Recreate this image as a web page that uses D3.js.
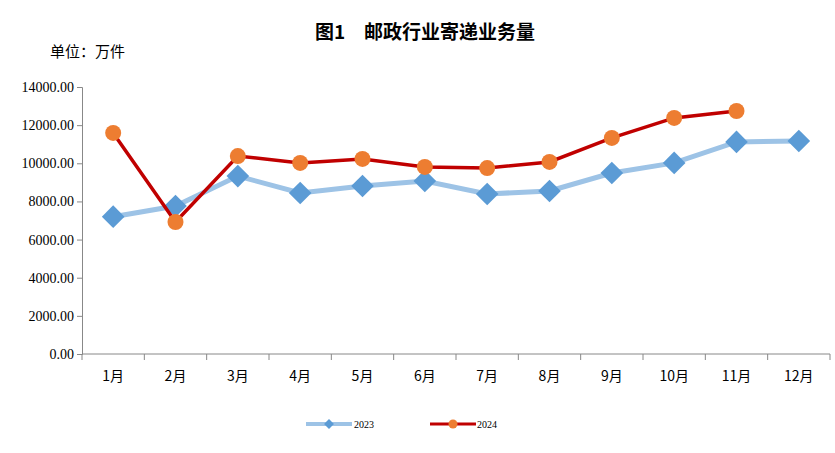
<!DOCTYPE html>
<html><head><meta charset="utf-8">
<script src="https://cdn.jsdelivr.net/npm/d3@7"></script>
<style>body{margin:0;background:#fff}</style>
</head><body><div id="chart"></div>
<script>
const months = ['1月','2月','3月','4月','5月','6月','7月','8月','9月','10月','11月','12月'];
const values2023 = [7200, 7760, 9330, 8440, 8810, 9070, 8390, 8550, 9490, 10020, 11120, 11170];
const values2024 = [11590, 6920, 10380, 10020, 10230, 9810, 9750, 10070, 11330, 12380, 12740];
const yTicks = [0, 2000, 4000, 6000, 8000, 10000, 12000, 14000];

(function() {
  const width = 835, height = 453,
        left = 82, right = 830, top = 87, bottom = 354;

  const svg = d3.select('#chart').append('svg')
    .attr('width', width).attr('height', height);

  const x = d3.scaleBand().domain(months).range([left, right]);
  const y = d3.scaleLinear().domain([0, 14000]).range([bottom, top]);
  const cx = m => x(m) + x.bandwidth() / 2;
  const numFont = '"Liberation Serif", serif';
  const cjk = '"Noto Sans CJK SC", sans-serif';

  svg.append('text').attr('x', 425).attr('y', 39).attr('text-anchor', 'middle')
    .style('font-family', cjk).style('font-size', '19px').style('font-weight', 'bold')
    .text('图1　邮政行业寄递业务量');
  svg.append('text').attr('x', 50).attr('y', 57)
    .style('font-family', cjk).style('font-size', '15px').text('单位：万件');

  // y axis
  const ya = svg.append('g').attr('transform', `translate(${left},0)`)
    .call(d3.axisLeft(y).tickValues(yTicks).tickSize(5).tickFormat(d => d.toFixed(2)));
  ya.selectAll('path,line').attr('stroke', '#888');
  ya.selectAll('text').style('font-family', numFont).style('font-size', '14px').attr('fill', '#000');

  // x axis
  const xa = svg.append('g').attr('transform', `translate(0,${bottom})`);
  xa.append('line').attr('x1', left).attr('x2', right).attr('stroke', '#888');
  xa.selectAll('.tk').data(months.concat(['end'])).enter().append('line')
    .attr('x1', (d, i) => left + i * x.bandwidth()).attr('x2', (d, i) => left + i * x.bandwidth())
    .attr('y1', 0).attr('y2', 6).attr('stroke', '#888');
  xa.selectAll('text').data(months).enter().append('text')
    .attr('x', cx).attr('y', 27).attr('text-anchor', 'middle')
    .style('font-family', cjk).style('font-size', '14px').text(d => d);

  const line = d3.line().x((d, i) => cx(months[i])).y(d => y(d));

  svg.append('path').datum(values2023).attr('d', line)
    .attr('fill', 'none').attr('stroke', '#9dc3e6').attr('stroke-width', 5);
  svg.selectAll('.d23').data(values2023).enter().append('rect')
    .attr('x', -8).attr('y', -8).attr('width', 16).attr('height', 16).attr('fill', '#5b9bd5')
    .attr('transform', (d, i) => `translate(${cx(months[i])},${y(d)}) rotate(45)`);

  svg.append('path').datum(values2024).attr('d', line)
    .attr('fill', 'none').attr('stroke', '#c00000').attr('stroke-width', 3.5);
  svg.selectAll('.d24').data(values2024).enter().append('circle')
    .attr('cx', (d, i) => cx(months[i])).attr('cy', d => y(d)).attr('r', 8).attr('fill', '#ed7d31');

  // legend
  const lg = svg.append('g').attr('transform', 'translate(0,424)');
  lg.append('line').attr('x1', 306).attr('x2', 352).attr('stroke', '#9dc3e6').attr('stroke-width', 4);
  lg.append('rect').attr('x', -3.5).attr('y', -3.5).attr('width', 7).attr('height', 7)
    .attr('fill', '#5b9bd5').attr('transform', 'translate(329,0) rotate(45)');
  lg.append('text').attr('x', 354).attr('y', 4).style('font-family', numFont).style('font-size', '10px').text('2023');
  lg.append('line').attr('x1', 430).attr('x2', 476).attr('stroke', '#c00000').attr('stroke-width', 3);
  lg.append('circle').attr('cx', 453).attr('cy', 0).attr('r', 4.5).attr('fill', '#ed7d31');
  lg.append('text').attr('x', 477).attr('y', 4).style('font-family', numFont).style('font-size', '10px').text('2024');
})();
</script></body></html>
